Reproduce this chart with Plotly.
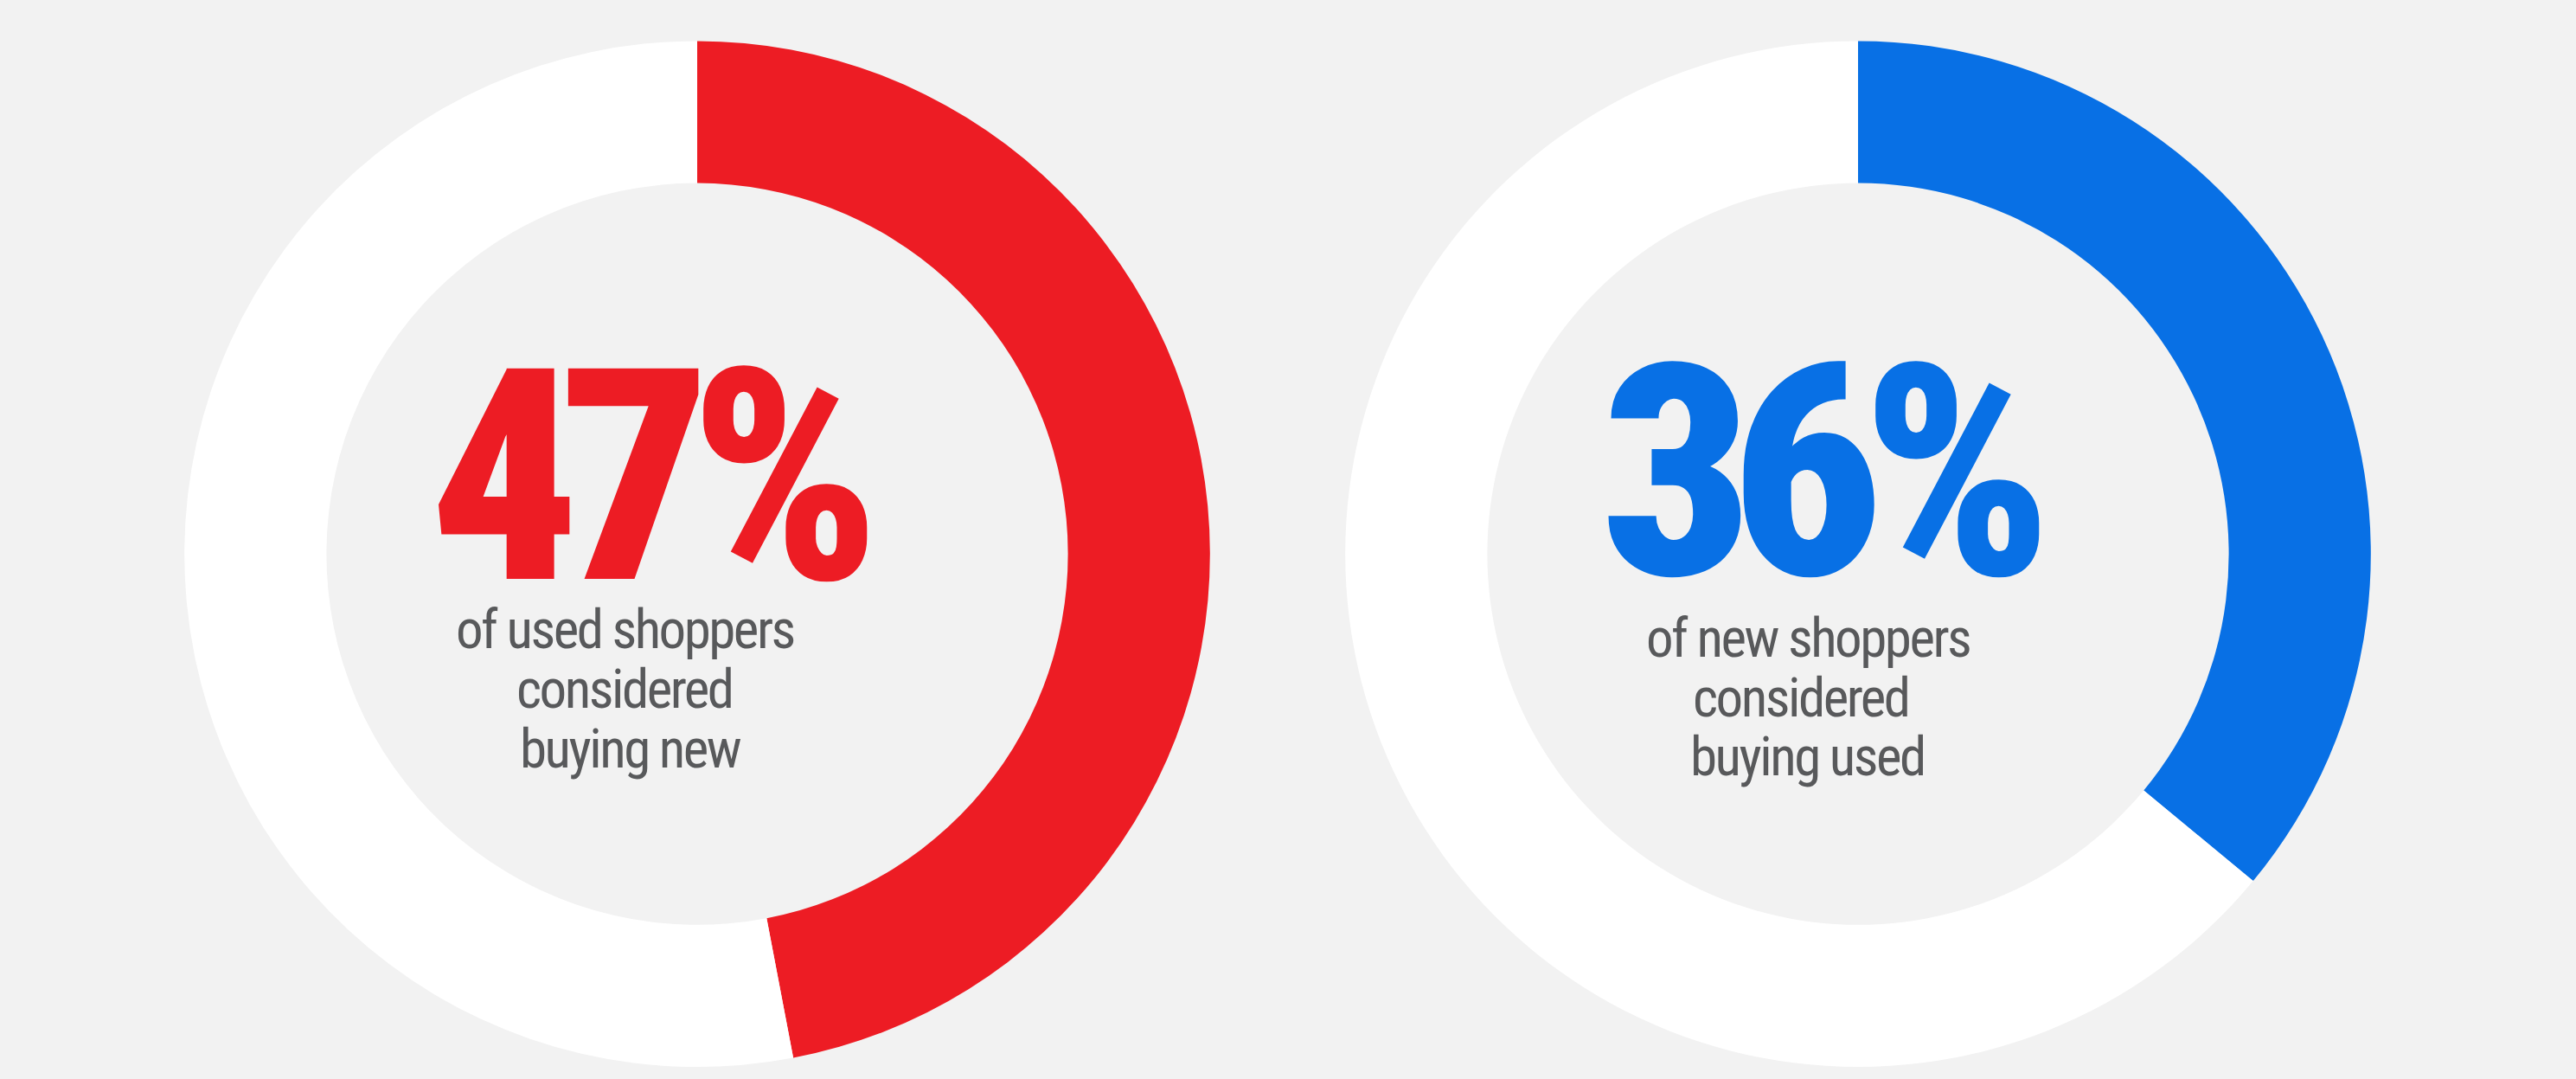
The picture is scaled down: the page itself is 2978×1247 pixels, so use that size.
import plotly.graph_objects as go

# ---- data ----
labels = ["Considered", "Did not consider"]
used_values = [47, 53]
new_values = [36, 64]
big_texts = ["47%", "36%"]
sub_lines_used = ["of used shoppers", "considered", "buying new"]
sub_lines_new = ["of new shoppers", "considered", "buying used"]

RED = "#ED1C24"
BLUE = "#0870E5"
BG = "#F2F2F2"
GRAY = "#58595B"
W, H = 2978, 1247

fig = go.Figure()

def add_donut(values, color, xdom):
    fig.add_trace(go.Pie(
        labels=labels, values=values, sort=False, direction="clockwise", rotation=0,
        hole=0.723, marker=dict(colors=[color, "#FFFFFF"], line=dict(width=0)),
        textinfo="none", hoverinfo="skip", showlegend=False,
        domain=dict(x=xdom, y=[0.0112, 0.962]),
    ))

add_donut(used_values, RED, [213 / W, 1399 / W])
add_donut(new_values, BLUE, [1555 / W, 2741 / W])

def px_x(x):
    return x / W

def px_y(y):
    return 1 - y / H

def add_block(big, lines, color, cx_big, cy_big, cx_lines, ys):
    fig.add_annotation(
        x=px_x(cx_big), y=px_y(cy_big), xref="paper", yref="paper",
        text=f"<span style='letter-spacing:-24px'>{big}</span>", showarrow=False,
        xanchor="center", yanchor="middle",
        font=dict(family="Roboto Condensed", size=342, color=color, weight=900),
    )
    for cx, y, t in zip(cx_lines, ys, lines):
        fig.add_annotation(
            x=px_x(cx), y=px_y(y), xref="paper", yref="paper",
            text=f"<span style='letter-spacing:-2.5px'>{t}</span>", showarrow=False,
            xanchor="center", yanchor="middle",
            font=dict(family="Roboto Condensed", size=63, color=GRAY),
        )

add_block(big_texts[0], sub_lines_used, RED, 751, 552, [722, 722, 729], [727, 796, 865])
add_block(big_texts[1], sub_lines_new, BLUE, 2106, 547, [2090, 2082, 2089], [737, 806, 875])

fig.update_layout(
    width=W, height=H, margin=dict(l=0, r=0, t=0, b=0),
    paper_bgcolor=BG, plot_bgcolor=BG,
)

fig.write_html("out.html")
